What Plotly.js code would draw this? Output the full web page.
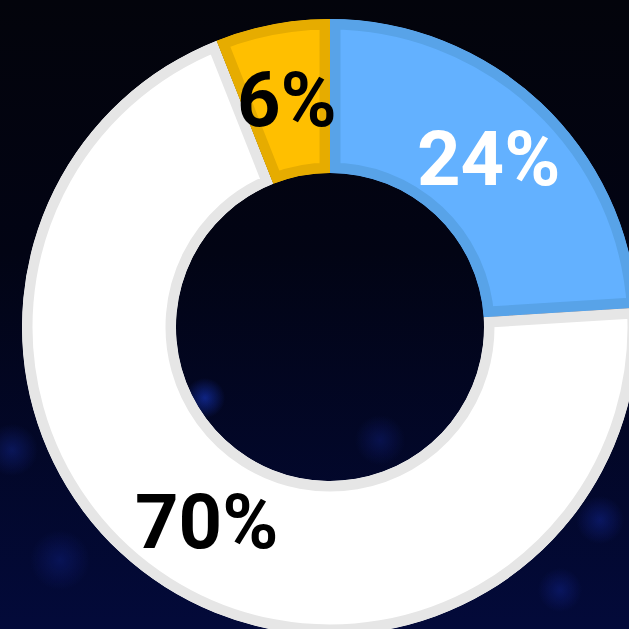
<!DOCTYPE html>
<html>
<head>
<meta charset="utf-8">
<script src="https://cdn.plot.ly/plotly-3.0.1.min.js"></script>
<style>
  html, body { margin: 0; padding: 0; width: 629px; height: 629px; overflow: hidden; }
  body {
    background:
      radial-gradient(circle at 205px 398px, rgba(25,60,210,0.55) 0, rgba(25,60,210,0) 20px),
      radial-gradient(circle at 12px 450px, rgba(25,50,180,0.35) 0, rgba(25,50,180,0) 26px),
      radial-gradient(circle at 600px 520px, rgba(25,50,190,0.35) 0, rgba(25,50,190,0) 24px),
      radial-gradient(circle at 320px 628px, rgba(30,60,210,0.45) 0, rgba(30,60,210,0) 22px),
      radial-gradient(circle at 560px 590px, rgba(25,50,190,0.3) 0, rgba(25,50,190,0) 22px),
      radial-gradient(circle at 60px 560px, rgba(25,50,190,0.25) 0, rgba(25,50,190,0) 30px),
      radial-gradient(circle at 380px 440px, rgba(25,50,190,0.25) 0, rgba(25,50,190,0) 25px),
      linear-gradient(to bottom, #03040b 0%, #020414 40%, #030a3a 100%);
  }
  #chart { position: absolute; left: 0; top: 0; }
</style>
</head>
<body>
<div id="chart"></div>
<script>
// ---- data ----
var labels = ['Blue', 'White', 'Yellow'];
var values = [24, 70, 6];
var textLabels = ['24%', '70%', '6%'];
var fillColors = ['#63B1FF', '#FFFFFF', '#FFBF00'];
var borderColors = ['#58A3E8', '#E6E6E6', '#E6AC00'];
var textColors = ['#FFFFFF', '#000000', '#000000'];

var HOLE = 0.5;

// annotations placed at mid-ring, at each slice's mid-angle (derived from values)
var total = values.reduce(function (a, b) { return a + b; }, 0);
var annotations = [];
var cum = 0;
var rMid = 0.5 * (1 + HOLE) / 2;
for (var i = 0; i < values.length; i++) {
  var mid = (cum + values[i] / 2) / total * 2 * Math.PI;
  cum += values[i];
  annotations.push({
    xref: 'paper', yref: 'paper',
    x: 0.5 + rMid * Math.sin(mid),
    y: 0.5 + rMid * Math.cos(mid),
    xanchor: 'center', yanchor: 'middle',
    text: textLabels[i],
    showarrow: false,
    font: { family: 'Roboto, Arial, sans-serif', size: 76, color: textColors[i], weight: 'bold' }
  });
}

var trace = {
  type: 'pie',
  labels: labels,
  values: values,
  hole: HOLE,
  sort: false,
  direction: 'clockwise',
  rotation: 0,
  textinfo: 'none',
  hoverinfo: 'skip',
  showlegend: false,
  marker: { colors: fillColors, line: { color: borderColors, width: 21 } }
};

var layout = {
  width: 660, height: 660,
  margin: { l: 22, t: 19, r: 22, b: 25, pad: 0 },
  paper_bgcolor: 'rgba(0,0,0,0)',
  plot_bgcolor: 'rgba(0,0,0,0)',
  showlegend: false,
  annotations: annotations
};

Plotly.newPlot('chart', [trace], layout, { staticPlot: true, displayModeBar: false }).then(function (gd) {
  // keep slice borders inside each slice: clip each stroked path to its own shape
  var svg = gd.querySelector('svg.main-svg');
  var defs = svg.querySelector('defs') || svg.insertBefore(document.createElementNS('http://www.w3.org/2000/svg', 'defs'), svg.firstChild);
  var paths = gd.querySelectorAll('g.slice path.surface');
  paths.forEach(function (p, k) {
    var cp = document.createElementNS('http://www.w3.org/2000/svg', 'clipPath');
    cp.setAttribute('id', 'sliceclip' + k);
    var cpp = document.createElementNS('http://www.w3.org/2000/svg', 'path');
    cpp.setAttribute('d', p.getAttribute('d'));
    cp.appendChild(cpp);
    defs.appendChild(cp);
    p.setAttribute('clip-path', 'url(#sliceclip' + k + ')');
  });
});
</script>
</body>
</html>
